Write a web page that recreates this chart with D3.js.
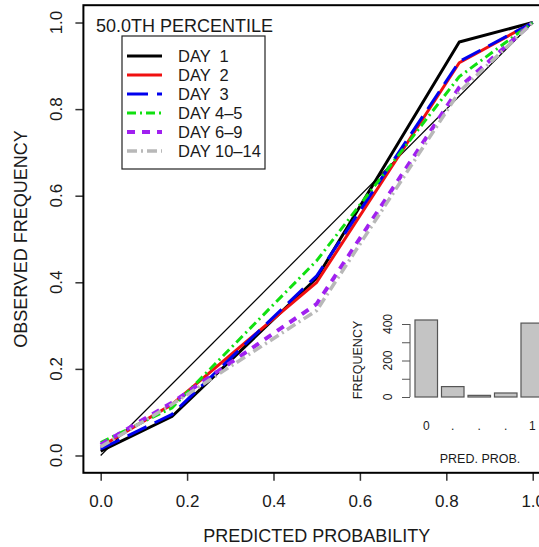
<!DOCTYPE html>
<html>
<head>
<meta charset="utf-8">
<script src="https://cdn.jsdelivr.net/npm/d3@7"></script>
<style>
  body { margin: 0; background: #fff; }
  svg { display: block; font-family: "Liberation Sans", Arial, Helvetica, sans-serif; }
  text { fill: #1a1a1a; }
</style>
</head>
<body>
<div class="main"></div>
<script>

// reliability curves: forecast bin probability vs observed frequency
const binProb = [0.0, 0.165, 0.5, 0.83, 1.0]
const day1 = [0.010, 0.090, 0.410, 0.955, 1.0]
const day2 = [0.020, 0.118, 0.400, 0.907, 1.0]
const day3 = [0.015, 0.095, 0.415, 0.910, 1.0]
const day4_5 = [0.030, 0.110, 0.450, 0.875, 1.0]
const day6_9 = [0.025, 0.122, 0.350, 0.850, 1.0]
const day10_14 = [0.020, 0.118, 0.335, 0.840, 1.0]

const seriesNames = ["DAY  1", "DAY  2", "DAY  3", "DAY 4–5", "DAY 6–9", "DAY 10–14"]
const seriesValues = [day1, day2, day3, day4_5, day6_9, day10_14]
const seriesColors = ["#000000", "#f01010", "#0000ee", "#10e010", "#a020f0", "#b8b8b8"]
const seriesDash = ["none", "none", "21,9", "9,4,2,4", "8,7", "10,4,2,4"]
const seriesWidth = [3, 3, 3, 3, 4, 3.5]

const axisTicks = [0, 0.2, 0.4, 0.6, 0.8, 1.0]

// inset histogram
const histBins = ["0", ".", ".", ".", "1"]
const histCounts = [422, 57, 9, 22, 405]
const histTicks = [0, 100, 200, 300, 400]
const histLabels = [0, 200, 400]


const chart = () => {

    ////////////
    // CANVAS //
    ////////////

    const w = 539
    const h = 547

    const svg = d3.select(".main")
        .append("svg")
        .attr("width", w)
        .attr("height", h)

    ////////////
    // SCALES //
    ////////////

    const x = d3.scaleLinear()
        .domain([-0.04, 1.04])
        .range([83.4, 550])

    const y = d3.scaleLinear()
        .domain([-0.04, 1.04])
        .range([472.8, 5.2])

    //////////
    // AXES //
    //////////

    const xAxis = svg.append("g")
        .attr("transform", `translate(0, ${y(-0.04)})`)
        .call(d3.axisBottom(x).tickValues(axisTicks).tickSize(8).tickFormat(d3.format(".1f")))

    xAxis.select(".domain").remove()
    xAxis.selectAll("line").attr("stroke", "#333").attr("stroke-width", 1.5)
    xAxis.selectAll("text")
        .attr("y", 34)
        .attr("dy", 0)
        .style("font-size", "17px")
        .style("font-family", "inherit")
        .attr("fill", "#1a1a1a")

    const yAxis = svg.append("g")
        .attr("transform", `translate(${x(-0.04)}, 0)`)
        .call(d3.axisLeft(y).tickValues(axisTicks).tickSize(8).tickFormat(""))

    yAxis.select(".domain").remove()
    yAxis.selectAll("line").attr("stroke", "#333").attr("stroke-width", 1.5)

    svg.selectAll(".ylab")
        .data(axisTicks)
        .join("text")
        .attr("class", "ylab")
        .attr("transform", d => `translate(62, ${y(d)}) rotate(-90)`)
        .attr("text-anchor", "middle")
        .style("font-size", "17px")
        .text(d3.format(".1f"))

    svg.append("text")
        .attr("x", (x(-0.04) + x(1.04)) / 2)
        .attr("y", 542)
        .attr("text-anchor", "middle")
        .style("font-size", "18px")
        .text("PREDICTED PROBABILITY")

    svg.append("text")
        .attr("transform", `translate(27, ${(y(-0.04) + y(1.04)) / 2}) rotate(-90)`)
        .attr("text-anchor", "middle")
        .style("font-size", "18px")
        .text("OBSERVED FREQUENCY")

    // plot box
    svg.append("rect")
        .attr("x", x(-0.04))
        .attr("y", y(1.04))
        .attr("width", x(1.04) - x(-0.04))
        .attr("height", y(-0.04) - y(1.04))
        .attr("fill", "none")
        .attr("stroke", "#000")
        .attr("stroke-width", 2)

    ///////////
    // LINES //
    ///////////

    // perfect reliability diagonal
    svg.append("line")
        .attr("x1", x(0)).attr("y1", y(0))
        .attr("x2", x(1)).attr("y2", y(1))
        .attr("stroke", "#000")
        .attr("stroke-width", 1.2)

    const line = d3.line()
        .x((d, i) => x(binProb[i]))
        .y(d => y(d))

    svg.selectAll(".curve")
        .data(seriesValues)
        .join("path")
        .attr("class", "curve")
        .attr("d", line)
        .attr("fill", "none")
        .attr("stroke", (d, i) => seriesColors[i])
        .attr("stroke-width", (d, i) => seriesWidth[i])
        .attr("stroke-dasharray", (d, i) => seriesDash[i])
        .attr("stroke-linejoin", "round")

    ////////////
    // LEGEND //
    ////////////

    svg.append("text")
        .attr("x", 96)
        .attr("y", 32)
        .style("font-size", "18px")
        .text("50.0TH PERCENTILE")

    svg.append("rect")
        .attr("x", 122)
        .attr("y", 36)
        .attr("width", 143)
        .attr("height", 133)
        .attr("fill", "#fff")
        .attr("stroke", "#222")
        .attr("stroke-width", 1.2)

    const legendRow = d3.scaleLinear().domain([0, 5]).range([56, 151])

    const rows = svg.selectAll(".legrow")
        .data(seriesNames)
        .join("g")
        .attr("class", "legrow")
        .attr("transform", (d, i) => `translate(0, ${legendRow(i)})`)

    rows.append("line")
        .attr("x1", 127).attr("x2", 162)
        .attr("stroke", (d, i) => seriesColors[i])
        .attr("stroke-width", (d, i) => seriesWidth[i])
        .attr("stroke-dasharray", (d, i) => seriesDash[i])

    rows.append("text")
        .attr("x", 178)
        .attr("y", 6)
        .style("font-size", "16.5px")
        .style("white-space", "pre")
        .attr("xml:space", "preserve")
        .text(d => d)

    ///////////
    // INSET //
    ///////////

    const hx = d3.scaleBand()
        .domain(d3.range(histBins.length))
        .range([413, 545.5])
        .paddingInner(0.15)
        .paddingOuter(0.075)

    const hy = d3.scaleLinear()
        .domain([0, 400])
        .range([397, 324])

    svg.selectAll(".hbar")
        .data(histCounts)
        .join("rect")
        .attr("class", "hbar")
        .attr("x", (d, i) => hx(i))
        .attr("y", d => hy(d))
        .attr("width", hx.bandwidth())
        .attr("height", d => hy(0) - hy(d))
        .attr("fill", "#c4c4c4")
        .attr("stroke", "#555")
        .attr("stroke-width", 1.2)

    const hAxis = svg.append("g")
        .attr("transform", "translate(410, 0)")
        .call(d3.axisLeft(hy).tickValues(histTicks).tickSize(8).tickFormat(""))

    hAxis.select(".domain").attr("d", `M0,${hy(0)}V${hy(400)}`).attr("stroke", "#555")
    hAxis.selectAll("line").attr("stroke", "#555")

    svg.selectAll(".hylab")
        .data(histLabels)
        .join("text")
        .attr("class", "hylab")
        .attr("transform", d => `translate(392, ${hy(d)}) rotate(-90)`)
        .attr("text-anchor", "middle")
        .style("font-size", "12px")
        .text(d => d)

    svg.selectAll(".hxlab")
        .data(histBins)
        .join("text")
        .attr("class", "hxlab")
        .attr("x", (d, i) => hx(i) + hx.bandwidth() / 2)
        .attr("y", 430)
        .attr("text-anchor", "middle")
        .style("font-size", "12px")
        .text(d => d)

    svg.append("text")
        .attr("x", 480)
        .attr("y", 463)
        .attr("text-anchor", "middle")
        .style("font-size", "12.5px")
        .text("PRED. PROB.")

    svg.append("text")
        .attr("transform", "translate(362, 360) rotate(-90)")
        .attr("text-anchor", "middle")
        .style("font-size", "12.5px")
        .text("FREQUENCY")
}

chart()

</script>
</body>
</html>
